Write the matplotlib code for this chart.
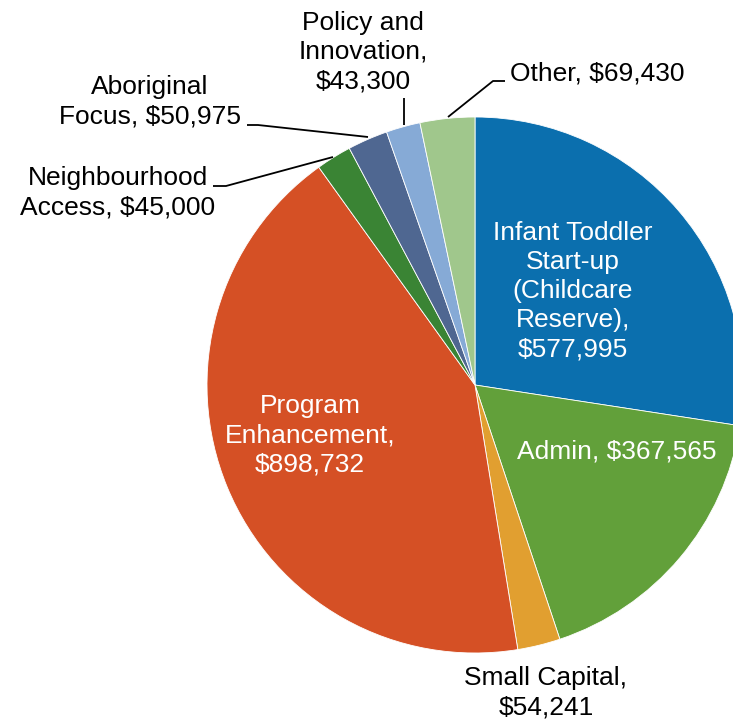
import matplotlib
matplotlib.use("Agg")
import matplotlib.pyplot as plt

categories = ["Infant Toddler\nStart-up\n(Childcare\nReserve)", "Admin", "Small Capital",
              "Program\nEnhancement", "Neighbourhood\nAccess", "Aboriginal\nFocus",
              "Policy and\nInnovation", "Other"]
values = [577995, 367565, 54241, 898732, 45000, 50975, 43300, 69430]
label_texts = ["Infant Toddler\nStart-up\n(Childcare\nReserve),\n$577,995",
               "Admin, $367,565",
               "Small Capital,\n$54,241",
               "Program\nEnhancement,\n$898,732",
               "Neighbourhood\nAccess, $45,000",
               "Aboriginal\nFocus, $50,975",
               "Policy and\nInnovation,\n$43,300",
               "Other, $69,430"]
colors = ["#0B6FAE", "#62A03A", "#E19F30", "#D55025", "#3A8434", "#4F6791", "#86AAD6", "#A0C78C"]

plt.rcParams['font.family'] = ['Liberation Sans', 'DejaVu Sans']
W, H = 733, 721
fig = plt.figure(figsize=(W / 100, H / 100), dpi=100)
ax = fig.add_axes([0, 0, 1, 1])

cx, cy, r = 475, H - 385, 268
ax.pie(values, colors=colors, startangle=90, counterclock=False, center=(cx, cy), radius=r,
       wedgeprops=dict(edgecolor='white', linewidth=0.6), frame=True)
ax.set_xlim(0, W)
ax.set_ylim(0, H)
ax.set_aspect('equal')
ax.axis('off')

fs = 19
ls = 1.27

def T(x, y, s, color='black', ha='center'):
    ax.text(x, H - y, s, color=color, fontsize=fs, ha=ha, va='center', linespacing=ls, ma='center')

T(573, 291, label_texts[0], color='white')
T(617, 452, label_texts[1], color='white')
T(546, 693, label_texts[2])
T(310, 435, label_texts[3], color='white')
T(118, 193, label_texts[4])
T(150, 102, label_texts[5])
T(363, 52, label_texts[6])
T(510, 74, label_texts[7], ha='left')

def L(pts):
    xs = [p[0] for p in pts]
    ys = [H - p[1] for p in pts]
    ax.plot(xs, ys, color='black', lw=1.3, solid_capstyle='butt')

L([(213, 186), (226, 186), (333, 157)])
L([(247, 125), (258, 125), (368, 137)])
L([(404, 98), (404, 125)])
L([(505, 81), (493, 81), (448, 117)])

fig.savefig("out.png", dpi=100)
